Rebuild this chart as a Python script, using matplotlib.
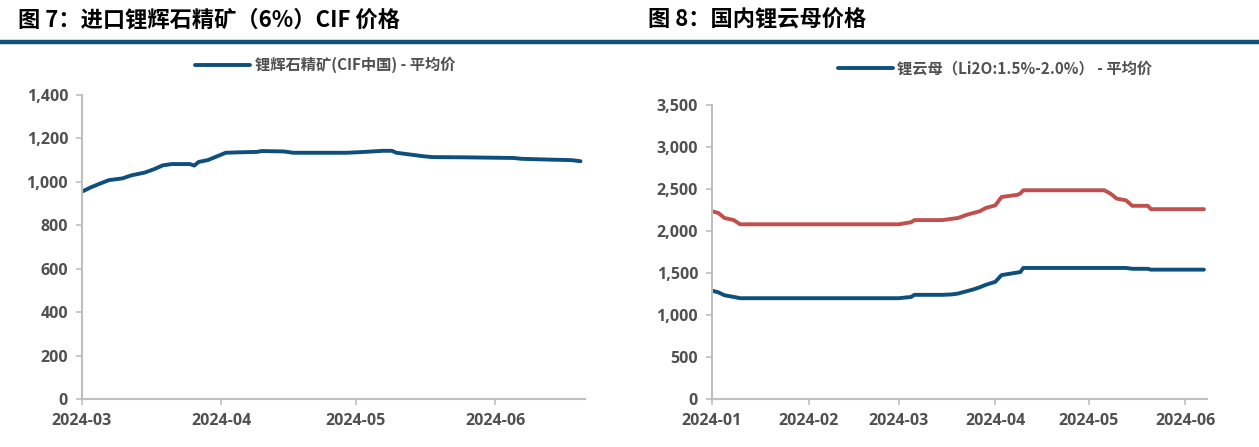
import matplotlib
matplotlib.use("Agg")
import matplotlib.pyplot as plt
import matplotlib.dates as mdates
from matplotlib.lines import Line2D
import pandas as pd

# 图7 锂辉石精矿 CIF 中国 平均价
spod_dates = ["2024-03-01", "2024-03-03", "2024-03-05", "2024-03-07", "2024-03-10",
              "2024-03-12", "2024-03-15", "2024-03-17", "2024-03-19", "2024-03-21",
              "2024-03-25", "2024-03-26", "2024-03-27", "2024-03-29", "2024-04-02",
              "2024-04-05", "2024-04-09", "2024-04-10", "2024-04-15", "2024-04-17",
              "2024-04-29", "2024-05-03", "2024-05-07", "2024-05-09", "2024-05-10",
              "2024-05-13", "2024-05-16", "2024-05-18", "2024-05-25", "2024-06-05",
              "2024-06-07", "2024-06-14", "2024-06-18", "2024-06-20"]
spod_vals = [955, 975, 992, 1008, 1016,
             1030, 1043, 1058, 1076, 1082,
             1082, 1075, 1092, 1100, 1134,
             1136, 1138, 1142, 1140, 1134,
             1134, 1138, 1143, 1143, 1134,
             1126, 1118, 1114, 1113, 1110,
             1106, 1102, 1100, 1095]

# 图8 国内锂云母价格
mica_dates = ["2024-01-01", "2024-01-03", "2024-01-05", "2024-01-08", "2024-01-10",
              "2024-03-01", "2024-03-05", "2024-03-06", "2024-03-15", "2024-03-18",
              "2024-03-20", "2024-03-23", "2024-03-25", "2024-03-27", "2024-03-29",
              "2024-04-01", "2024-04-03", "2024-04-08", "2024-04-09", "2024-04-10",
              "2024-05-06", "2024-05-08", "2024-05-10", "2024-05-13", "2024-05-15",
              "2024-05-20", "2024-05-21", "2024-06-07"]
mica_red = [2235, 2215, 2155, 2130, 2080,
            2080, 2105, 2130, 2130, 2145,
            2155, 2195, 2215, 2235, 2275,
            2305, 2405, 2430, 2445, 2485,
            2485, 2445, 2385, 2365, 2300,
            2300, 2260, 2260]
mica_blue = [1290, 1270, 1235, 1215, 1200,
             1200, 1215, 1240, 1240, 1245,
             1255, 1285, 1305, 1330, 1360,
             1395, 1475, 1505, 1510, 1560,
             1560, 1560, 1560, 1560, 1550,
             1550, 1540, 1540]

BLUE = "#0E4F7C"
RED = "#C0504D"
GRAY = "#505050"
AXC = "#BFBFBF"
CJK = ["Noto Sans CJK SC", "DejaVu Sans"]

plt.rcParams["font.family"] = ["Open Sans", "Noto Sans CJK SC", "DejaVu Sans"]
plt.rcParams["font.weight"] = "bold"
plt.rcParams["xtick.labelsize"] = 11.5
plt.rcParams["ytick.labelsize"] = 11.5
plt.rcParams["xtick.labelcolor"] = GRAY
plt.rcParams["ytick.labelcolor"] = GRAY

fig = plt.figure(figsize=(12.59, 4.47), dpi=100)

# header titles and rule
fig.text(18 / 1259, 1 - 20 / 447, "图 7：进口锂辉石精矿（6%）CIF 价格", family=CJK,
         fontsize=16, fontweight="bold", va="center", ha="left")
fig.text(648 / 1259, 1 - 20 / 447, "图 8：国内锂云母价格", family=CJK,
         fontsize=16, fontweight="bold", va="center", ha="left")
fig.add_artist(Line2D([0, 1], [1 - 42 / 447] * 2, color="#11507A", lw=3.2,
                      transform=fig.transFigure))


def style(ax):
    for s in ["top", "right"]:
        ax.spines[s].set_visible(False)
    for s in ["left", "bottom"]:
        ax.spines[s].set_color(AXC)
        ax.spines[s].set_linewidth(1.5)
    ax.tick_params(color=AXC, length=4, width=1.2, direction="out", pad=6)
    ax.xaxis.set_major_locator(mdates.MonthLocator())
    ax.xaxis.set_major_formatter(mdates.DateFormatter("%Y-%m"))
    ax.yaxis.set_major_formatter(matplotlib.ticker.StrMethodFormatter("{x:,.0f}"))


legend_kw = dict(bbox_transform=fig.transFigure, frameon=False, handlelength=3.6,
                 handletextpad=0.3, labelcolor=GRAY,
                 prop={"family": CJK, "weight": "bold", "size": 11})

# left chart
ax1 = fig.add_axes([82 / 1259, 48 / 447, 503 / 1259, 304 / 447])
ax1.plot(pd.to_datetime(spod_dates), spod_vals, color=BLUE, lw=2.8,
         label="锂辉石精矿(CIF中国) - 平均价", solid_capstyle="round")
ax1.set_ylim(0, 1400)
ax1.set_yticks(range(0, 1401, 200))
ax1.set_xlim(pd.Timestamp("2024-03-01"), pd.Timestamp("2024-06-21"))
style(ax1)
ax1.legend(loc="center", bbox_to_anchor=(325 / 1259, 1 - 65 / 447), **legend_kw)

# right chart
ax2 = fig.add_axes([712 / 1259, 48 / 447, 495 / 1259, 294 / 447])
ax2.plot(pd.to_datetime(mica_dates), mica_red, color=RED, lw=2.8,
         solid_capstyle="round")
ax2.plot(pd.to_datetime(mica_dates), mica_blue, color=BLUE, lw=2.8,
         label="锂云母（Li2O:1.5%-2.0%） - 平均价", solid_capstyle="round")
ax2.set_ylim(0, 3500)
ax2.set_yticks(range(0, 3501, 500))
ax2.set_xlim(pd.Timestamp("2024-01-01"), pd.Timestamp("2024-06-08"))
style(ax2)
ax2.legend(loc="center", bbox_to_anchor=(995 / 1259, 1 - 68 / 447), **legend_kw)

fig.savefig("out.png", dpi=100)
